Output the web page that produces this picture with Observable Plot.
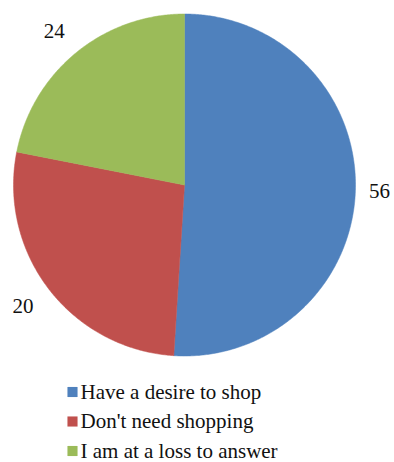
<!DOCTYPE html>
<html>
<head>
<meta charset="utf-8">
<script src="https://cdn.jsdelivr.net/npm/d3@7"></script>
<script src="https://cdn.jsdelivr.net/npm/@observablehq/plot@0.6"></script>
<style>
  html, body { margin: 0; padding: 0; background: #fff; }
  #chart svg { display: block; }
</style>
</head>
<body>
<div id="chart"></div>
<script>
// ---- data ----
const categories = ["Have a desire to shop", "Don't need shopping", "I am at a loss to answer"];
const labels = [56, 20, 24];          // printed data labels
const shares = [51, 27.1, 21.9];      // slice sizes as drawn in the picture
const colors = ["#4F81BD", "#C0504D", "#9BBB59"];

// ---- layout ----
const W = 394, H = 462;
const cx = 184, cy = 184.5, R = 171;
const labelR = 199;
const legendX = 72, legendY0 = 391.5, legendStep = 29.5;
const FONT = "Times New Roman, Liberation Serif, Tinos, DejaVu Serif, serif";

const rows = categories.map((c, i) => ({category: c, label: labels[i], share: shares[i], color: colors[i], i}));
const arcs = d3.pie().sort(null).value(d => d.share)(rows);

const px = a => cx + R * Math.sin(a);
const py = a => cy - R * Math.cos(a);

const marks = [];
for (const arc of arcs) {
  const pts = [{x: cx, y: cy}];
  const n = Math.max(2, Math.ceil((arc.endAngle - arc.startAngle) / (Math.PI / 360)));
  for (let k = 0; k <= n; k++) {
    const a = arc.startAngle + (arc.endAngle - arc.startAngle) * k / n;
    pts.push({x: px(a), y: py(a)});
  }
  pts.push({x: cx, y: cy});
  marks.push(Plot.line(pts, {x: "x", y: "y", fill: arc.data.color, stroke: arc.data.color, strokeWidth: 0.5, curve: "linear"}));
}

const labelData = arcs.map(arc => {
  const m = (arc.startAngle + arc.endAngle) / 2;
  return {x: cx + labelR * Math.sin(m), y: cy - labelR * Math.cos(m), text: String(arc.data.label)};
});
marks.push(Plot.text(labelData, {x: "x", y: "y", dx: -4, text: "text", fontSize: 21, fontFamily: FONT, fill: "#111", textAnchor: "middle", lineAnchor: "middle"}));

const legendData = rows.map(d => ({x: legendX, y: legendY0 + d.i * legendStep, color: d.color, category: d.category}));
marks.push(Plot.dot(legendData, {x: "x", y: "y", symbol: "square", r: 5.7, fill: "color", stroke: null}));
marks.push(Plot.text(legendData, {x: "x", y: "y", dx: 8, text: "category", textAnchor: "start", lineAnchor: "middle", fontSize: 21, fontFamily: FONT, fill: "#111"}));

const chart = Plot.plot({
  width: W,
  height: H,
  margin: 0,
  x: {type: "linear", domain: [0, W], range: [0, W], axis: null},
  y: {type: "linear", domain: [0, H], range: [0, H], axis: null},
  color: {type: "identity"},
  style: {fontFamily: FONT, background: "#fff"},
  marks
});
document.getElementById("chart").appendChild(chart);
</script>
</body>
</html>
